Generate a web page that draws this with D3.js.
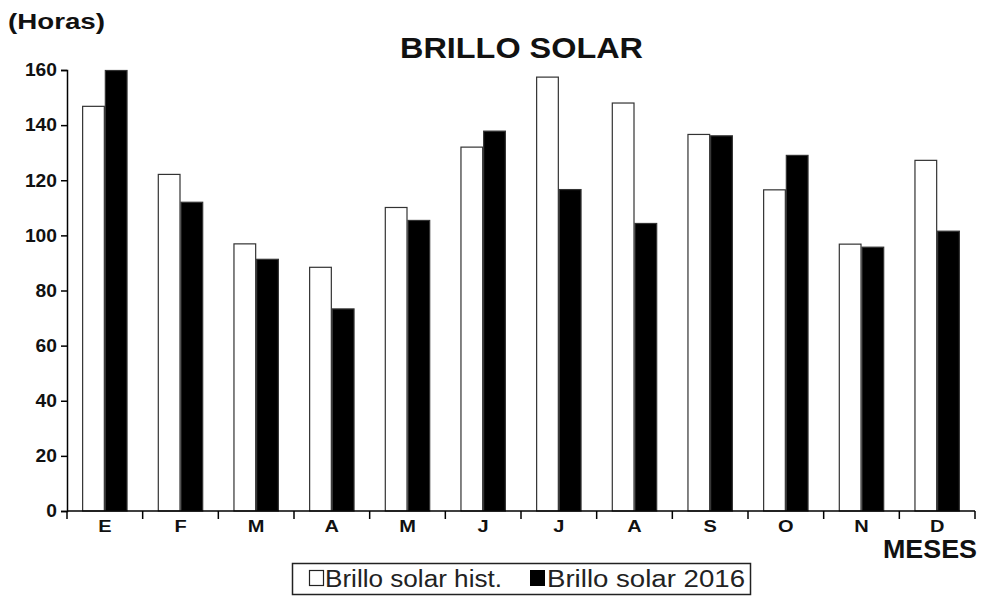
<!DOCTYPE html>
<html>
<head>
<meta charset="utf-8">
<script src="https://cdn.jsdelivr.net/npm/d3@7"></script>
<style>
  html, body { margin: 0; padding: 0; background: #fff; }
  svg { display: block; font-family: "Liberation Sans", Arial, sans-serif; }
</style>
</head>
<body>
<svg id="chart" width="984" height="596"></svg>
<script>
const months = ["E","F","M","A","M","J","J","A","S","O","N","D"];
const histValues = [147, 122.3, 97.1, 88.6, 110.3, 132.2, 157.6, 148.2, 136.8, 116.7, 97, 127.4];
const values2016 = [160, 112.2, 91.5, 73.5, 105.6, 138, 116.8, 104.5, 136.3, 129.2, 95.9, 101.7];
const yTicks = [0, 20, 40, 60, 80, 100, 120, 140, 160];
const seriesNames = ["Brillo solar hist.", "Brillo solar 2016"];
const seriesFill = ["#ffffff", "#000000"];

(function () {
const svg = d3.select("#chart");
const pLeft = 67, pRight = 975, pTop = 70, pBottom = 511;

const idx = months.map((m, i) => i);
const x0 = d3.scaleBand().domain(idx).range([pLeft, pRight]).paddingInner(0.4).paddingOuter(0.2);
const x1 = d3.scaleBand().domain([0, 1]).range([0, x0.bandwidth()]);
const y = d3.scaleLinear().domain([0, 160]).range([pBottom, pTop]);

// bars
const groups = svg.append("g").selectAll("g").data(idx).join("g")
  .attr("transform", i => `translate(${x0(i)},0)`);
groups.selectAll("rect")
  .data(i => [histValues[i], values2016[i]].map((v, s) => ({v, s})))
  .join("rect")
  .attr("x", d => x1(d.s) + 0.5)
  .attr("y", d => y(d.v) + 0.5)
  .attr("width", x1.bandwidth() - 1)
  .attr("height", d => pBottom - y(d.v) - 0.5)
  .attr("fill", d => seriesFill[d.s])
  .attr("stroke", "#333")
  .attr("stroke-width", 1.2);

// y axis
const yAxis = svg.append("g").attr("transform", `translate(${pLeft},0)`)
  .call(d3.axisLeft(y).tickValues(yTicks).tickSize(6).tickPadding(4).tickFormat(d3.format("d")));
yAxis.select(".domain").attr("stroke", "#000").attr("stroke-width", 1.5);
yAxis.selectAll(".tick line").attr("stroke", "#000").attr("stroke-width", 1.5);
yAxis.selectAll("text").attr("font-size", 18).attr("font-weight", "bold").attr("fill", "#111")
  .attr("font-family", "Liberation Sans, Arial, sans-serif")
  .attr("textLength", d => String(d).length * 10.7)
  .attr("lengthAdjust", "spacingAndGlyphs");

// x axis line
svg.append("line").attr("x1", pLeft).attr("x2", pRight).attr("y1", pBottom).attr("y2", pBottom)
  .attr("stroke", "#000").attr("stroke-width", 1.5);
// boundary ticks
const step = x0.step();
const bounds = d3.range(months.length + 1).map(i => pLeft + i * step);
svg.append("g").selectAll("line").data(bounds).join("line")
  .attr("x1", d => d).attr("x2", d => d).attr("y1", pBottom).attr("y2", pBottom + 8)
  .attr("stroke", "#000").attr("stroke-width", 1.5);
// month labels
svg.append("g").selectAll("text").data(idx).join("text")
  .attr("transform", i => `translate(${x0(i) + x0.bandwidth() / 2},532) scale(1.25,1)`)
  .attr("text-anchor", "middle")
  .attr("font-size", 16).attr("font-weight", "bold").attr("fill", "#111")
  .text(i => months[i]);

// titles
svg.append("text").attr("x", 400).attr("y", 58)
  .attr("font-size", 30).attr("font-weight", "bold").attr("fill", "#111")
  .attr("textLength", 243).attr("lengthAdjust", "spacingAndGlyphs").text("BRILLO SOLAR");
svg.append("text").attr("x", 8).attr("y", 29)
  .attr("font-size", 22).attr("font-weight", "bold").attr("fill", "#111")
  .attr("textLength", 97).attr("lengthAdjust", "spacingAndGlyphs").text("(Horas)");
svg.append("text").attr("x", 883).attr("y", 558)
  .attr("font-size", 25).attr("font-weight", "bold").attr("fill", "#111")
  .attr("textLength", 94).attr("lengthAdjust", "spacingAndGlyphs").text("MESES");

// legend
const lg = svg.append("g");
lg.append("rect").attr("x", 292.5).attr("y", 563.5).attr("width", 458).attr("height", 31)
  .attr("fill", "#fff").attr("stroke", "#222").attr("stroke-width", 1.5);
lg.append("rect").attr("x", 309.5).attr("y", 570.5).attr("width", 14).attr("height", 15)
  .attr("fill", "#fff").attr("stroke", "#222").attr("stroke-width", 1.2);
lg.append("text").attr("x", 325).attr("y", 587).attr("font-size", 23).attr("fill", "#222")
  .attr("textLength", 177).attr("lengthAdjust", "spacingAndGlyphs").text(seriesNames[0]);
lg.append("rect").attr("x", 530).attr("y", 570).attr("width", 15).attr("height", 16).attr("fill", "#000");
lg.append("text").attr("x", 547).attr("y", 587).attr("font-size", 23).attr("fill", "#222")
  .attr("textLength", 198).attr("lengthAdjust", "spacingAndGlyphs").text(seriesNames[1]);
})();
</script>
</body>
</html>
